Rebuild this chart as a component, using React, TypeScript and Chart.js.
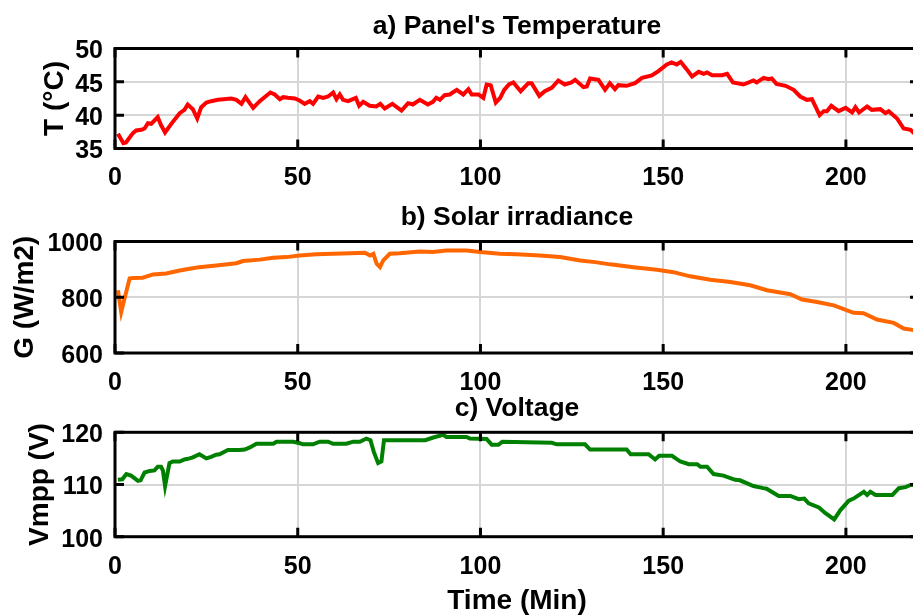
import React, { useEffect, useRef } from "react";
import { Chart, registerables } from "chart.js";

Chart.register(...registerables);

const FONT = "'Liberation Sans', Arial, Helvetica, sans-serif";

// ---- data ----
const timeTicks = [0, 50, 100, 150, 200];
const tempTicks = [35, 40, 45, 50];
const irrTicks = [600, 800, 1000];
const voltTicks = [100, 110, 120];

const tempMinutes = [0.8, 2.3, 3, 4.9, 5.8, 7.2, 8.1, 9, 9.9, 10.8, 11.7, 12.6, 13.7, 15.4, 17.7, 19, 19.9, 21.3, 22.5, 23.6, 25, 26.3, 28.2, 31.8, 33.2, 34.6, 35.7, 37.8, 39.6, 42.5, 43.7, 45.1, 46, 47.3, 49.2, 50.5, 51.9, 53.3, 54.2, 55.6, 57, 58.3, 59.7, 60.6, 61.5, 62.4, 63.8, 65.9, 66.8, 67.9, 69.7, 71.5, 72.6, 73.8, 75.9, 78.4, 80.2, 81.5, 83.4, 85.6, 87, 87.9, 88.9, 90.2, 91.6, 93.5, 95.3, 96.7, 97.6, 99.5, 100.8, 101.7, 102.8, 104.2, 105.4, 106.5, 107.8, 109, 111, 113.1, 114, 116.1, 117.6, 119.5, 121.3, 123.1, 124.9, 125.9, 128.2, 129.1, 130, 132.3, 134.1, 135.4, 136.8, 137.7, 140, 142.3, 144.2, 146.9, 148.7, 151, 152.3, 153.7, 154.8, 156.4, 157.9, 159.7, 161.1, 162, 163.4, 166.1, 167.5, 169.1, 172, 174.7, 175.6, 177.5, 178.8, 179.7, 181, 183.5, 185.7, 187.5, 189.3, 190.7, 192.8, 193.9, 194.8, 196, 198, 199.9, 201.7, 202.6, 203.6, 205.8, 207.1, 209.4, 210.8, 211.7, 214, 215.8, 217.7, 218.6, 220];
const tempValues = [37.2, 35.8, 35.9, 37.3, 37.7, 37.8, 38.0, 38.8, 38.7, 39.2, 39.7, 38.5, 37.4, 38.7, 40.3, 40.8, 41.6, 40.9, 39.5, 41.2, 41.9, 42.1, 42.3, 42.5, 42.3, 41.7, 42.7, 41.1, 42.1, 43.4, 43.1, 42.4, 42.7, 42.6, 42.5, 42.2, 41.7, 42.1, 41.7, 42.8, 42.6, 42.8, 43.4, 42.4, 43.1, 42.3, 42.1, 42.6, 41.4, 42.0, 41.4, 41.3, 41.7, 41.0, 41.7, 40.7, 41.8, 41.6, 42.3, 41.6, 42.0, 42.6, 42.3, 43.0, 43.1, 43.8, 43.1, 43.9, 43.1, 43.1, 42.6, 44.6, 44.5, 41.9, 42.6, 43.8, 44.6, 44.9, 43.6, 44.8, 44.8, 42.9, 43.6, 44.1, 45.2, 44.6, 44.9, 45.3, 44.2, 44.3, 45.5, 45.3, 43.8, 44.8, 43.9, 44.5, 44.4, 44.8, 45.6, 45.95, 46.6, 47.6, 47.9, 47.6, 48.0, 46.9, 45.8, 46.5, 46.2, 46.4, 46.0, 46.0, 46.2, 44.9, 44.6, 45.2, 44.9, 45.6, 45.4, 45.5, 44.7, 44.4, 43.8, 42.8, 42.3, 42.4, 40.0, 40.6, 40.6, 41.4, 40.6, 41.1, 40.4, 41.2, 40.4, 41.3, 40.8, 40.9, 40.3, 40.6, 39.5, 38.0, 37.8, 37.3, 37.0];

const irrMinutes = [0.8, 1.7, 2.6, 4, 4.9, 7.6, 10.4, 14, 17.7, 20.4, 23.1, 27.7, 33.2, 35, 39.6, 43.3, 46.9, 50.5, 55.1, 59.7, 64.3, 68.4, 69.8, 70.7, 71.6, 72.5, 73.4, 75.2, 77.9, 83.4, 87, 90.7, 96.2, 99.9, 105.3, 109.9, 116.3, 121.8, 127.3, 131.4, 135.5, 141.9, 148.3, 152.8, 157.4, 162.9, 168.4, 173.8, 178.4, 184.8, 188, 192.1, 196.7, 202.1, 204.8, 208.5, 213.1, 215.8, 218.6, 220];
const irrValues = [825, 747, 795, 867, 869, 870, 882, 885, 896, 902, 908, 914, 922, 930, 935, 942, 944, 950, 954, 956, 958, 960, 950, 956, 920, 908, 932, 956, 958, 964, 962, 968, 968, 962, 956, 954, 950, 944, 932, 926, 918, 908, 899, 890, 875, 863, 855, 843, 825, 811, 792, 783, 771, 744, 743, 720, 708, 688, 682, 680];

const voltMinutes = [0.8, 2, 3.1, 4.4, 6.3, 7, 8.1, 9.5, 10.8, 11.7, 12.6, 13.1, 13.7, 14.9, 15.8, 17.7, 19, 20.4, 21.3, 23.1, 25, 26.3, 27.7, 28.6, 30.9, 34.1, 35.5, 36.9, 38.7, 43.3, 44.2, 48.8, 50.6, 51.5, 54.2, 56, 58.3, 59.7, 63.3, 65.2, 67, 68.8, 69.9, 70.8, 72, 72.9, 73.6, 84.9, 87.1, 89.8, 90.7, 96.2, 97.1, 101.7, 103.1, 104.9, 106, 119.5, 120.9, 128.6, 130, 140, 141.1, 146, 147.8, 148.9, 152.4, 154.7, 157, 159.3, 160.2, 162, 163.8, 166.5, 169.7, 171, 174.7, 177.4, 178.3, 181.6, 184.8, 187.1, 188.6, 189.8, 192.6, 194.4, 196.8, 198.5, 200.8, 202.1, 204.9, 205.8, 206.7, 208.1, 212.7, 214.5, 216.3, 217.7, 220];
const voltValues = [110.9, 111.0, 112.0, 111.7, 110.7, 110.8, 112.3, 112.6, 112.7, 113.4, 113.4, 112.7, 109.7, 114.1, 114.4, 114.4, 114.8, 115.0, 115.2, 115.8, 115.0, 115.3, 115.7, 115.8, 116.6, 116.6, 116.7, 117.1, 117.8, 117.8, 118.2, 118.2, 117.9, 117.7, 117.7, 118.2, 118.2, 117.8, 117.8, 118.2, 118.2, 118.8, 118.5, 116.3, 114.1, 114.4, 118.5, 118.5, 119.0, 119.5, 119.1, 119.1, 118.8, 118.7, 117.6, 117.6, 118.2, 118.0, 117.7, 117.7, 116.7, 116.7, 115.8, 115.8, 114.8, 115.5, 115.5, 114.4, 113.9, 113.9, 113.4, 113.4, 112.0, 111.7, 110.9, 110.8, 109.7, 109.3, 109.2, 107.8, 107.8, 107.2, 107.3, 106.4, 105.6, 104.5, 103.3, 105.1, 106.9, 107.3, 108.6, 108.0, 108.6, 108.0, 108.0, 109.3, 109.5, 109.9, 110.0];

// ---- layout ----
const CANVAS_W = 1034;
const AXIS_LEFT_W = 115;

type PanelSpec = {
  title: string;
  yTitle: string;
  xTitle?: string;
  minutes: number[];
  values: number[];
  color: string;
  yMin: number;
  yMax: number;
  yTicks: number[];
  canvasTop: number;
  canvasH: number;
  titlePadTop: number;
  titlePadBottom: number;
  xAxisH: number;
  yTitlePad: number;
};

const panels: PanelSpec[] = [
  {
    title: "a) Panel's Temperature",
    yTitle: "T (°C)",
    minutes: tempMinutes,
    values: tempValues,
    color: "#ff0000",
    yMin: 35,
    yMax: 50,
    yTicks: tempTicks,
    canvasTop: 0,
    canvasH: 200,
    titlePadTop: 10.6,
    titlePadBottom: 6.1,
    xAxisH: 51.5,
    yTitlePad: 38.2,
  },
  {
    title: "b) Solar irradiance",
    yTitle: "G (W/m2)",
    minutes: irrMinutes,
    values: irrValues,
    color: "#ff6600",
    yMin: 600,
    yMax: 1000,
    yTicks: irrTicks,
    canvasTop: 200,
    canvasH: 195,
    titlePadTop: 2.1,
    titlePadBottom: 7.6,
    xAxisH: 42,
    yTitlePad: 8.2,
  },
  {
    title: "c) Voltage",
    yTitle: "Vmpp (V)",
    xTitle: "Time (Min)",
    minutes: voltMinutes,
    values: voltValues,
    color: "#008000",
    yMin: 100,
    yMax: 120,
    yTicks: voltTicks,
    canvasTop: 385,
    canvasH: 230,
    titlePadTop: 8.1,
    titlePadBottom: 7.4,
    xAxisH: 78.3,
    yTitlePad: 23.2,
  },
];

const boxPlugin = {
  id: "boxAndInnerTicks",
  afterDraw(chart: any) {
    const { ctx, chartArea, scales } = chart;
    const { left, right, top, bottom } = chartArea;
    const L = 9;
    ctx.save();
    ctx.strokeStyle = "#000";
    ctx.lineWidth = 3;
    ctx.lineCap = "butt";
    ctx.beginPath();
    scales.x.ticks.forEach((t: any) => {
      const px = scales.x.getPixelForValue(t.value);
      ctx.moveTo(px, top);
      ctx.lineTo(px, top + L);
      ctx.moveTo(px, bottom);
      ctx.lineTo(px, bottom - L);
    });
    scales.y.ticks.forEach((t: any) => {
      const py = scales.y.getPixelForValue(t.value);
      ctx.moveTo(left, py);
      ctx.lineTo(left + L, py);
      ctx.moveTo(right, py);
      ctx.lineTo(right - L, py);
    });
    ctx.stroke();
    ctx.strokeRect(left, top, right - left, bottom - top);
    ctx.restore();
  },
};

function Panel({ spec }: { spec: PanelSpec }) {
  const ref = useRef<HTMLCanvasElement | null>(null);
  useEffect(() => {
    if (!ref.current) return;
    const gridColor = "#d6d6d6";
    const chart = new Chart(ref.current, {
      type: "line",
      data: {
        datasets: [
          {
            data: spec.minutes.map((m, i) => ({ x: m, y: spec.values[i] })),
            borderColor: spec.color,
            borderWidth: 4,
            pointRadius: 0,
            tension: 0,
            fill: false,
          },
        ],
      },
      options: {
        responsive: false,
        animation: false,
        events: [],
        layout: { padding: 0 },
        plugins: {
          legend: { display: false },
          tooltip: { enabled: false },
          title: {
            display: true,
            text: spec.title,
            color: "#000",
            font: { family: FONT, size: 26.5, weight: "bold", lineHeight: 1.2 },
            padding: { top: spec.titlePadTop, bottom: spec.titlePadBottom },
          },
        },
        scales: {
          x: {
            type: "linear",
            min: 0,
            max: 220,
            afterBuildTicks: (s: any) => {
              s.ticks = timeTicks.map((v) => ({ value: v }));
            },
            afterFit: (s: any) => {
              s.height = spec.xAxisH;
            },
            grid: { color: gridColor, lineWidth: 2, drawTicks: false },
            border: { display: false },
            ticks: {
              color: "#000",
              padding: 15,
              maxRotation: 0,
              autoSkip: false,
              font: { family: FONT, size: 25, weight: "bold" },
              callback: (v: any) => String(v),
            },
            title: {
              display: !!spec.xTitle,
              text: spec.xTitle || "",
              color: "#000",
              font: { family: FONT, size: 28, weight: "bold", lineHeight: 1 },
              padding: { top: 0, bottom: 0 },
            },
          },
          y: {
            type: "linear",
            position: "left",
            min: spec.yMin,
            max: spec.yMax,
            afterBuildTicks: (s: any) => {
              s.ticks = spec.yTicks.map((v) => ({ value: v }));
            },
            afterFit: (s: any) => {
              s.width = AXIS_LEFT_W;
            },
            grid: { color: gridColor, lineWidth: 2, drawTicks: false },
            border: { display: false },
            ticks: {
              color: "#000",
              padding: 12,
              labelOffset: 3,
              font: { family: FONT, size: 25, weight: "bold" },
              callback: (v: any) => String(v),
            },
            title: {
              display: true,
              text: spec.yTitle,
              color: "#000",
              font: { family: FONT, size: 28, weight: "bold", lineHeight: 1.2 },
              padding: { top: spec.yTitlePad, bottom: 0 },
            },
          },
          yRight: {
            type: "linear",
            position: "right",
            display: true,
            afterFit: (s: any) => {
              s.width = AXIS_LEFT_W;
            },
            grid: { display: false, drawOnChartArea: false },
            border: { display: false },
            ticks: { display: false },
          },
        },
      },
      plugins: [boxPlugin],
    } as any);
    return () => chart.destroy();
  }, [spec]);
  return (
    <canvas
      ref={ref}
      width={CANVAS_W}
      height={spec.canvasH}
      style={{
        position: "absolute",
        left: 0,
        top: spec.canvasTop,
        width: CANVAS_W,
        height: spec.canvasH,
        display: "block",
      }}
    />
  );
}

export default function App() {
  return (
    <div
      style={{
        position: "absolute",
        left: 0,
        top: 0,
        width: 913,
        height: 615,
        overflow: "hidden",
        background: "#fff",
      }}
    >
      {panels.map((p) => (
        <Panel key={p.title} spec={p} />
      ))}
    </div>
  );
}
